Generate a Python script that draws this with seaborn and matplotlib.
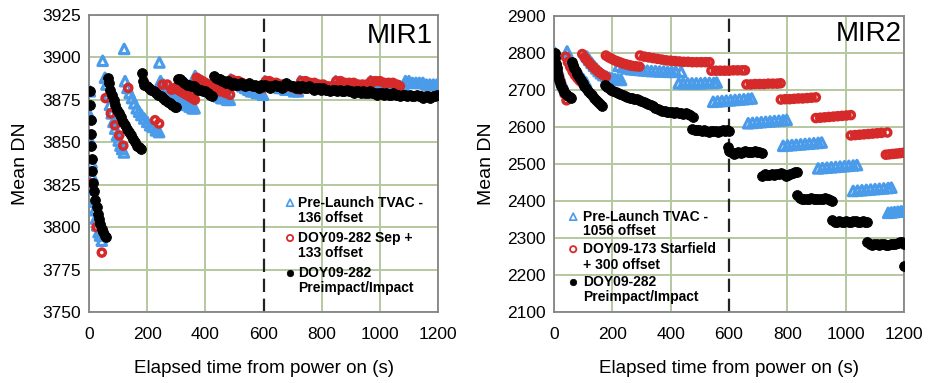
import matplotlib
matplotlib.use('Agg')
import matplotlib.pyplot as plt
from matplotlib.ticker import MultipleLocator
import seaborn as sns

# ---------------- MIR1 ----------------
mir1_tvac_x = [3, 5, 7, 9, 11, 14, 17, 20, 24, 28, 33, 38, 44,
               47,
               55, 60, 66, 72, 78, 84, 90, 96, 102, 108, 114, 120,
               121,
               124, 132, 140, 148, 156, 164, 172, 180, 190, 200, 210, 220, 230, 241,
               242,
               246, 256, 266, 276, 286, 296, 306, 316, 326, 336, 346, 356, 363,
               365, 375, 385, 395, 405, 415, 425, 435, 445, 455, 465, 475, 484,
               487, 497, 507, 517, 527, 537, 547, 557, 567, 577, 587, 598,
               605, 615, 625, 635, 645, 655, 665, 675, 685, 695, 705, 718,
               725, 740, 755, 770, 785, 800, 815, 830, 842,
               848, 863, 878, 893, 908, 923, 938, 950, 962,
               968, 983, 998, 1013, 1028, 1043, 1058, 1070, 1082,
               1088, 1100, 1112, 1124, 1136, 1148, 1160, 1172, 1184, 1196]
mir1_tvac_y = [3880, 3865, 3850, 3838, 3830, 3822, 3815, 3810, 3805, 3801, 3797, 3795, 3792,
               3898,
               3888, 3884, 3878, 3872, 3867, 3862, 3858, 3854, 3851, 3848, 3846, 3844,
               3905,
               3886, 3882, 3879, 3876, 3873, 3870, 3868, 3866, 3864, 3862, 3860, 3859, 3857, 3856,
               3897,
               3886, 3884, 3882, 3880, 3878, 3877, 3875, 3874, 3873, 3872, 3871, 3870, 3870,
               3889, 3887, 3885, 3883, 3882, 3880, 3879, 3878, 3877, 3876, 3876, 3875, 3875,
               3887, 3886, 3885, 3884, 3883, 3882, 3881, 3880, 3880, 3879, 3879, 3878,
               3886, 3885, 3884, 3884, 3883, 3882, 3882, 3881, 3881, 3881, 3880, 3880,
               3886, 3885, 3884, 3883, 3883, 3882, 3882, 3881, 3881,
               3886, 3885, 3884, 3884, 3883, 3883, 3882, 3882, 3882,
               3886, 3885, 3885, 3884, 3884, 3883, 3883, 3883, 3883,
               3886, 3886, 3885, 3885, 3885, 3885, 3884, 3884, 3884, 3884]

mir1_sep_x = [3, 26, 44,
              57, 75, 89, 104, 118,
              135, 227, 241,
              253, 269, 284, 295, 305, 315, 325, 335, 345, 355, 364,
              370, 380, 390, 400, 410, 420, 430, 440, 450, 460, 470, 485,
              490, 502, 514, 526, 538, 550, 562, 574, 586, 600,
              608, 620, 632, 644, 656, 668, 680, 692, 704, 725,
              730, 745, 760, 775, 790, 805, 820, 835, 845,
              850, 865, 880, 895, 910, 925, 940, 955, 965,
              970, 985, 1000, 1015, 1030, 1045, 1058, 1069]
mir1_sep_y = [3826, 3800, 3785,
              3876, 3867, 3860, 3854, 3848,
              3882, 3863, 3861,
              3884, 3884, 3881, 3882, 3881, 3880, 3879, 3878, 3877, 3876, 3875,
              3888, 3887, 3886, 3885, 3884, 3883, 3882, 3881, 3880, 3880, 3879, 3878,
              3887, 3886, 3886, 3885, 3884, 3884, 3883, 3883, 3882, 3882,
              3886, 3886, 3885, 3885, 3884, 3884, 3883, 3883, 3882, 3881,
              3886, 3886, 3885, 3885, 3884, 3884, 3883, 3883, 3883,
              3886, 3886, 3885, 3885, 3885, 3884, 3884, 3884, 3883,
              3886, 3886, 3886, 3885, 3885, 3885, 3884, 3883]

mir1_impact_x = [4, 5, 6, 7, 8, 10, 12, 15, 18, 22, 26, 30, 34, 38, 43, 48, 54, 60,
                 64, 68, 73, 79, 85, 91, 97, 103, 110, 117, 124, 131, 138, 145, 152, 159, 166, 172, 178,
                 182, 184, 190, 198, 206, 214, 222, 230, 238, 246, 254, 262, 270, 278, 286, 294, 300,
                 305, 312, 320, 328, 336, 344, 352, 360, 368, 376, 384, 392, 400, 408, 416, 424,
                 430, 437, 444, 451, 458, 465, 472, 479, 486, 493, 500, 507, 514, 521, 528, 535,
                 542, 549, 556, 563, 570, 577, 584, 591, 598, 606, 614, 622, 630, 638, 646, 654,
                 662, 670, 678, 686, 694, 702, 710, 718, 726, 734, 742, 750, 758, 766, 774, 782,
                 790, 798, 806, 814, 822, 830, 838, 846, 854, 862, 870, 878, 886, 894, 902, 910,
                 918, 926, 934, 942, 950, 958, 966, 974, 982, 990, 998, 1006, 1014, 1022, 1030,
                 1038, 1046, 1054, 1062, 1070, 1078, 1086, 1094, 1102, 1110, 1118, 1126, 1134,
                 1142, 1150, 1158, 1166, 1174, 1182, 1190, 1197]
mir1_impact_y = [3880, 3872, 3863, 3855, 3848, 3840, 3833, 3826, 3821, 3816, 3812, 3808, 3805, 3802, 3799, 3797, 3795, 3794,
                 3888, 3885, 3881, 3878, 3875, 3872, 3869, 3867, 3865, 3862, 3860, 3858, 3856, 3854, 3852, 3850, 3848, 3847, 3846,
                 3891, 3886, 3884, 3883, 3882, 3881, 3880, 3879, 3878, 3877, 3876, 3875, 3874, 3873, 3872, 3871, 3871,
                 3887, 3887, 3886, 3885, 3884, 3884, 3883, 3883, 3882, 3881, 3881, 3880, 3880, 3879, 3878, 3877,
                 3889, 3888, 3887, 3887, 3886, 3886, 3885, 3886, 3885, 3884, 3885, 3884, 3884, 3885, 3884, 3883,
                 3884, 3885, 3884, 3883, 3884, 3883, 3882, 3884, 3883, 3884, 3883, 3882, 3883, 3884, 3883, 3883,
                 3882, 3883, 3885, 3884, 3883, 3883, 3882, 3883, 3882, 3883, 3882, 3882, 3883, 3882, 3881, 3882,
                 3882, 3881, 3882, 3881, 3881, 3880, 3881, 3881, 3880, 3881, 3880, 3880, 3881, 3880, 3880, 3879,
                 3880, 3880, 3879, 3880, 3879, 3879, 3880, 3879, 3879, 3878, 3879, 3879, 3878, 3879, 3878,
                 3878, 3879, 3878, 3878, 3877, 3878, 3878, 3877, 3878, 3877, 3877, 3878, 3877,
                 3877, 3876, 3877, 3877, 3876, 3877, 3877, 3878]

# ---------------- MIR2 ----------------
mir2_tvac_x = [3, 8, 14, 20, 27, 34, 41,
               45, 53, 61, 69, 77, 85, 93, 101, 110,
               113, 121, 129, 137, 145, 153, 161, 169, 180, 190, 200, 210, 220, 230,
               222, 236, 250, 264, 278, 292, 306, 320, 334, 348, 362, 376, 390, 404, 418, 436,
               428, 443, 458, 473, 488, 503, 518, 533, 548, 558,
               546, 561, 576, 591, 606, 621, 636, 651, 666, 678,
               666, 681, 696, 711, 726, 741, 756, 771, 786, 798,
               786, 801, 816, 831, 846, 861, 876, 891, 906, 918,
               906, 921, 936, 951, 966, 981, 996, 1011, 1026, 1039,
               1026, 1041, 1056, 1071, 1086, 1101, 1116, 1131, 1146, 1157,
               1146, 1157, 1168, 1179, 1190, 1200]
mir2_tvac_y = [2800, 2775, 2755, 2738, 2722, 2708, 2696,
               2804, 2788, 2775, 2763, 2753, 2744, 2736, 2728, 2720,
               2790, 2781, 2773, 2765, 2758, 2751, 2745, 2740, 2736, 2733, 2731, 2729, 2728, 2727,
               2765, 2761, 2758, 2756, 2755, 2754, 2753, 2752, 2751, 2751, 2750, 2750, 2749, 2749, 2749, 2749,
               2718, 2718, 2718, 2718, 2718, 2718, 2719, 2719, 2719, 2720,
               2668, 2669, 2670, 2671, 2672, 2673, 2674, 2675, 2676, 2677,
               2610, 2611, 2612, 2613, 2614, 2615, 2616, 2617, 2618, 2619,
               2549, 2550, 2551, 2552, 2553, 2554, 2555, 2556, 2557, 2558,
               2488, 2489, 2490, 2491, 2492, 2493, 2494, 2495, 2496, 2497,
               2427, 2428, 2429, 2430, 2431, 2432, 2433, 2434, 2435, 2436,
               2368, 2369, 2370, 2371, 2372, 2373]

mir2_star_x = [3, 8, 13, 18, 24, 30, 36, 43,
               40, 48, 56, 64, 72, 80, 88, 98,
               97, 105, 113, 121, 129, 137, 145, 153, 161, 169, 178,
               178, 188, 198, 208, 218, 228, 238, 248, 258, 268, 280, 293,
               295, 310, 325, 340, 355, 370, 385, 400, 415, 430, 445, 460, 475, 490, 505, 520, 533,
               540, 555, 570, 585, 600, 615, 630, 645, 655,
               660, 675, 690, 705, 720, 735, 750, 765, 777,
               778, 793, 808, 823, 838, 853, 868, 883, 898,
               898, 913, 928, 943, 958, 973, 988, 1003, 1018,
               1018, 1033, 1048, 1063, 1078, 1093, 1108, 1123, 1143,
               1138, 1150, 1162, 1174, 1186, 1198]
mir2_star_y = [2795, 2770, 2750, 2735, 2720, 2705, 2690, 2672,
               2790, 2775, 2762, 2750, 2740, 2732, 2725, 2718,
               2797, 2788, 2780, 2773, 2766, 2760, 2754, 2749, 2744, 2740, 2736,
               2793, 2788, 2784, 2780, 2777, 2774, 2771, 2769, 2767, 2765, 2764, 2763,
               2793, 2790, 2788, 2786, 2784, 2782, 2780, 2779, 2778, 2777, 2776, 2776, 2775, 2775, 2775, 2775, 2775,
               2752, 2752, 2752, 2752, 2752, 2753, 2753, 2753, 2753,
               2715, 2715, 2716, 2716, 2716, 2717, 2717, 2717, 2718,
               2674, 2675, 2675, 2676, 2677, 2677, 2678, 2679, 2680,
               2624, 2625, 2626, 2627, 2628, 2629, 2630, 2631, 2632,
               2577, 2578, 2579, 2580, 2581, 2582, 2583, 2584, 2585,
               2525, 2526, 2527, 2528, 2529, 2530]

mir2_impact_x = [3, 5, 7, 9, 11, 14, 17, 21, 25, 30, 36, 42, 48, 54, 60,
                 62, 66, 70, 75, 80, 86, 92, 98, 104, 110, 117, 124, 131, 138, 145, 152, 159, 166,
                 176, 183, 190, 197, 204, 212, 220, 228, 236, 244, 252, 260, 268, 276, 284, 292,
                 300, 308, 316, 324, 332, 340, 348, 356, 364, 372, 380, 388, 396, 404, 412, 420,
                 428, 436, 444, 452, 460, 468, 476,
                 474, 482, 490, 498, 506, 514, 522, 530, 538, 546, 554, 562, 570, 578, 586, 594, 600,
                 596, 600, 608, 616, 624, 632, 640, 648, 656, 664, 672, 680, 688, 696, 704, 712,
                 714, 722, 730, 738, 746, 754, 762, 770, 778, 786, 794, 802, 810, 818, 826, 834,
                 834, 842, 850, 858, 866, 874, 882, 890, 898, 906, 914, 922, 930, 938, 946, 954,
                 954, 962, 970, 978, 986, 994, 1002, 1010, 1018, 1026, 1034, 1042, 1050, 1058, 1066, 1074,
                 1074, 1082, 1090, 1098, 1106, 1114, 1122, 1130, 1138, 1146, 1154, 1162, 1170, 1178, 1186, 1194, 1199,
                 1199]
mir2_impact_y = [2800, 2785, 2770, 2758, 2748, 2738, 2728, 2718, 2710, 2702, 2694, 2688, 2684, 2681, 2678,
                 2776, 2768, 2760, 2750, 2742, 2734, 2726, 2718, 2711, 2705, 2698, 2691, 2685, 2679, 2673, 2667, 2661, 2656,
                 2714, 2709, 2704, 2700, 2697, 2694, 2691, 2688, 2686, 2684, 2681, 2679, 2677, 2676, 2675, 2673,
                 2670, 2667, 2665, 2662, 2659, 2656, 2652, 2648, 2645, 2643, 2642, 2641, 2640, 2640, 2639, 2640,
                 2638, 2637, 2636, 2637, 2635, 2632, 2628,
                 2595, 2592, 2593, 2591, 2590, 2592, 2588, 2586, 2589, 2590, 2588, 2586, 2590, 2592, 2590, 2593, 2589,
                 2545, 2535, 2531, 2528, 2530, 2532, 2529, 2533, 2534, 2531, 2533, 2532, 2534, 2532, 2531, 2530,
                 2468, 2472, 2469, 2470, 2472, 2471, 2473, 2474, 2475, 2472, 2468, 2470, 2474, 2476, 2478, 2479,
                 2415, 2408, 2404, 2406, 2404, 2406, 2407, 2404, 2405, 2406, 2404, 2405, 2407, 2405, 2403, 2401,
                 2348, 2342, 2343, 2345, 2344, 2343, 2345, 2344, 2343, 2345, 2346, 2344, 2343, 2345, 2344, 2342,
                 2290, 2284, 2282, 2284, 2283, 2281, 2283, 2284, 2282, 2281, 2283, 2285, 2283, 2286, 2290, 2288, 2284,
                 2225]

mir1_labels = ['Pre-Launch TVAC -\n136 offset', 'DOY09-282 Sep +\n133 offset',
               'DOY09-282\nPreimpact/Impact']
mir2_labels = ['Pre-Launch TVAC -\n1056 offset', 'DOY09-173 Starfield\n+ 300 offset',
               'DOY09-282\nPreimpact/Impact']

BLUE = '#4a9bea'
RED = '#d62a2a'
BLACK = '#000000'
GRID = '#b4c89e'
SPINE = '#858585'

sns.set_style('white')
plt.rcParams['font.family'] = ['Liberation Sans', 'DejaVu Sans']
plt.rcParams['text.color'] = 'black'
plt.rcParams['axes.labelcolor'] = 'black'

fig = plt.figure(figsize=(9.29, 3.83), dpi=100)
ax1 = fig.add_axes([0.0958, 0.1854, 0.3757, 0.7755])
ax2 = fig.add_axes([0.5963, 0.1854, 0.3767, 0.7730])


def draw_panel(ax, tx, ty, rx, ry, kx, ky):
    sns.scatterplot(x=tx, y=ty, ax=ax, marker='^', s=46, facecolor='none',
                    edgecolor=BLUE, linewidth=2.3, zorder=3)
    sns.scatterplot(x=rx, y=ry, ax=ax, marker='o', s=26, facecolor='none',
                    edgecolor=RED, linewidth=2.5, zorder=4)
    sns.scatterplot(x=kx, y=ky, ax=ax, marker='o', s=50, color=BLACK,
                    edgecolor=BLACK, linewidth=0.6, zorder=5)


draw_panel(ax1, mir1_tvac_x, mir1_tvac_y, mir1_sep_x, mir1_sep_y,
           mir1_impact_x, mir1_impact_y)
draw_panel(ax2, mir2_tvac_x, mir2_tvac_y, mir2_star_x, mir2_star_y,
           mir2_impact_x, mir2_impact_y)

ax1.set_ylim(3750, 3925)
ax1.yaxis.set_major_locator(MultipleLocator(25))
ax1.yaxis.set_minor_locator(MultipleLocator(12.5))
ax2.set_ylim(2100, 2900)
ax2.yaxis.set_major_locator(MultipleLocator(100))
ax2.yaxis.set_minor_locator(MultipleLocator(50))

for ax in (ax1, ax2):
    ax.set_xlim(0, 1200)
    ax.xaxis.set_major_locator(MultipleLocator(200))
    ax.xaxis.set_minor_locator(MultipleLocator(50))
    ax.grid(True, which='major', color=GRID, linewidth=1.4, zorder=0)
    ax.set_axisbelow(True)
    for xg in ax.get_xgridlines():
        if abs(xg.get_xdata()[0] - 600) < 1:
            xg.set_visible(False)
    ax.axvline(600, color='#222222', linestyle=(0, (6, 3)), linewidth=1.6, zorder=2)
    for sp in ax.spines.values():
        sp.set_color(SPINE)
        sp.set_linewidth(1.3)
    ax.tick_params(axis='x', which='major', direction='in', length=0, pad=11,
                   labelsize=12.5, labelcolor='black')
    ax.tick_params(axis='x', which='minor', direction='in', length=4,
                   color=SPINE, width=1)
    ax.tick_params(axis='y', which='major', direction='out', length=4, pad=2,
                   labelsize=12.5, color=SPINE, width=1, labelcolor='black')
    ax.tick_params(axis='y', which='minor', direction='in', length=4,
                   color=SPINE, width=1)
    ax.set_xlabel('Elapsed time from power on (s)', fontsize=13.5, labelpad=13)
    ax.set_ylabel('Mean DN', fontsize=14, labelpad=9)

ax1.text(0.986, 0.93, 'MIR1', transform=ax1.transAxes, ha='right', va='center',
         fontsize=20)
ax2.text(0.994, 0.94, 'MIR2', transform=ax2.transAxes, ha='right', va='center',
         fontsize=20)

# legends: marker next to the first line of a two-line label
styles = [dict(marker='^', facecolor='none', edgecolor=BLUE, s=26, linewidth=1.2),
          dict(marker='o', facecolor='none', edgecolor=RED, s=20, linewidth=1.3),
          dict(marker='o', facecolor=BLACK, edgecolor=BLACK, s=22, linewidth=0.5)]


def draw_legend(ax, labels, mx, tx, line_y):
    for i, (lab, st) in enumerate(zip(labels, styles)):
        first, second = lab.split('\n')
        y1, y2 = line_y[2 * i], line_y[2 * i + 1]
        ax.scatter([mx], [y1], transform=ax.transAxes, clip_on=False, zorder=6, **st)
        for txt, yy in ((first, y1), (second, y2)):
            ax.text(tx, yy, txt, transform=ax.transAxes, ha='left', va='center',
                    fontsize=10, fontweight='bold', zorder=6)


draw_legend(ax1, mir1_labels, 0.576, 0.599,
            [0.368, 0.316, 0.249, 0.199, 0.132, 0.081])
draw_legend(ax2, mir2_labels, 0.055, 0.083,
            [0.322, 0.272, 0.212, 0.160, 0.102, 0.052])

fig.savefig('out.png', dpi=100)
